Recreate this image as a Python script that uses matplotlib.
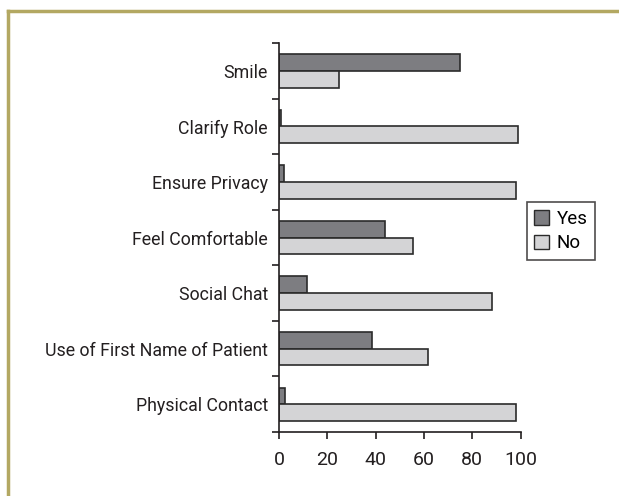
import matplotlib
matplotlib.use('agg')

import matplotlib.pyplot as plt
from matplotlib.lines import Line2D
from matplotlib.patches import Patch
import numpy as np

categories = ["Smile", "Clarify Role", "Ensure Privacy", "Feel Comfortable",
              "Social Chat", "Use of First Name of Patient", "Physical Contact"]
yes_vals = [75, 1, 2, 44, 11.5, 38.5, 2.3]
no_vals = [25, 99, 98, 55.5, 88, 61.5, 98]
x_ticks = [0, 20, 40, 60, 80, 100]

plt.rcParams['font.family'] = ['Roboto', 'DejaVu Sans']

fig = plt.figure(figsize=(6.19, 4.96), dpi=100)
ax = fig.add_axes([0.4507, 0.129, 0.3903, 0.784])

y = np.arange(len(categories))
h = 0.3
ax.barh(y - h / 2, yes_vals, height=h, color="#7d7d81", edgecolor="#2b2b2b", linewidth=1.2, label="Yes")
ax.barh(y + h / 2, no_vals, height=h, color="#d4d4d6", edgecolor="#2b2b2b", linewidth=1.2, label="No")

ax.set_xlim(0, 100)
ax.set_ylim(len(categories) - 0.5, -0.5)
ax.set_xticks(x_ticks)
ax.set_xticklabels([str(t) for t in x_ticks])
ax.set_yticks(np.arange(len(categories) + 1) - 0.5)
ax.set_yticklabels([])
ax.set_yticks(y, minor=True)
ax.set_yticklabels(categories, minor=True)
ax.tick_params(axis='y', which='minor', length=0, pad=8, labelsize=12.8, colors="#231f20")
ax.tick_params(axis='y', which='major', length=5, width=1.2, color="#231f20")
ax.tick_params(axis='x', length=5, width=1.2, labelsize=14, pad=9, colors="#231f20")

for s in ["top", "right"]:
    ax.spines[s].set_visible(False)
for s in ["left", "bottom"]:
    ax.spines[s].set_linewidth(1.2)
    ax.spines[s].set_color("#231f20")

handles = [Patch(facecolor="#7d7d81", edgecolor="#2b2b2b", label="Yes"),
           Patch(facecolor="#d4d4d6", edgecolor="#2b2b2b", label="No")]
leg = fig.legend(handles=handles, loc="upper left", bbox_to_anchor=(0.851, 0.592),
                 fontsize=13.5, frameon=True, fancybox=False, handlelength=0.8,
                 handleheight=0.8, handletextpad=0.4, labelspacing=0.35, borderpad=0.4,
                 borderaxespad=0)
leg.get_frame().set_edgecolor("#231f20")
leg.get_frame().set_linewidth(1.2)

# gold frame on top and left
border = "#b3a862"
fig.add_artist(Line2D([0.013, 1.0], [0.978, 0.978], color=border, linewidth=2.5))
fig.add_artist(Line2D([0.013, 0.013], [0.0, 0.978], color=border, linewidth=2.5))

fig.savefig("out.png", dpi=100)
